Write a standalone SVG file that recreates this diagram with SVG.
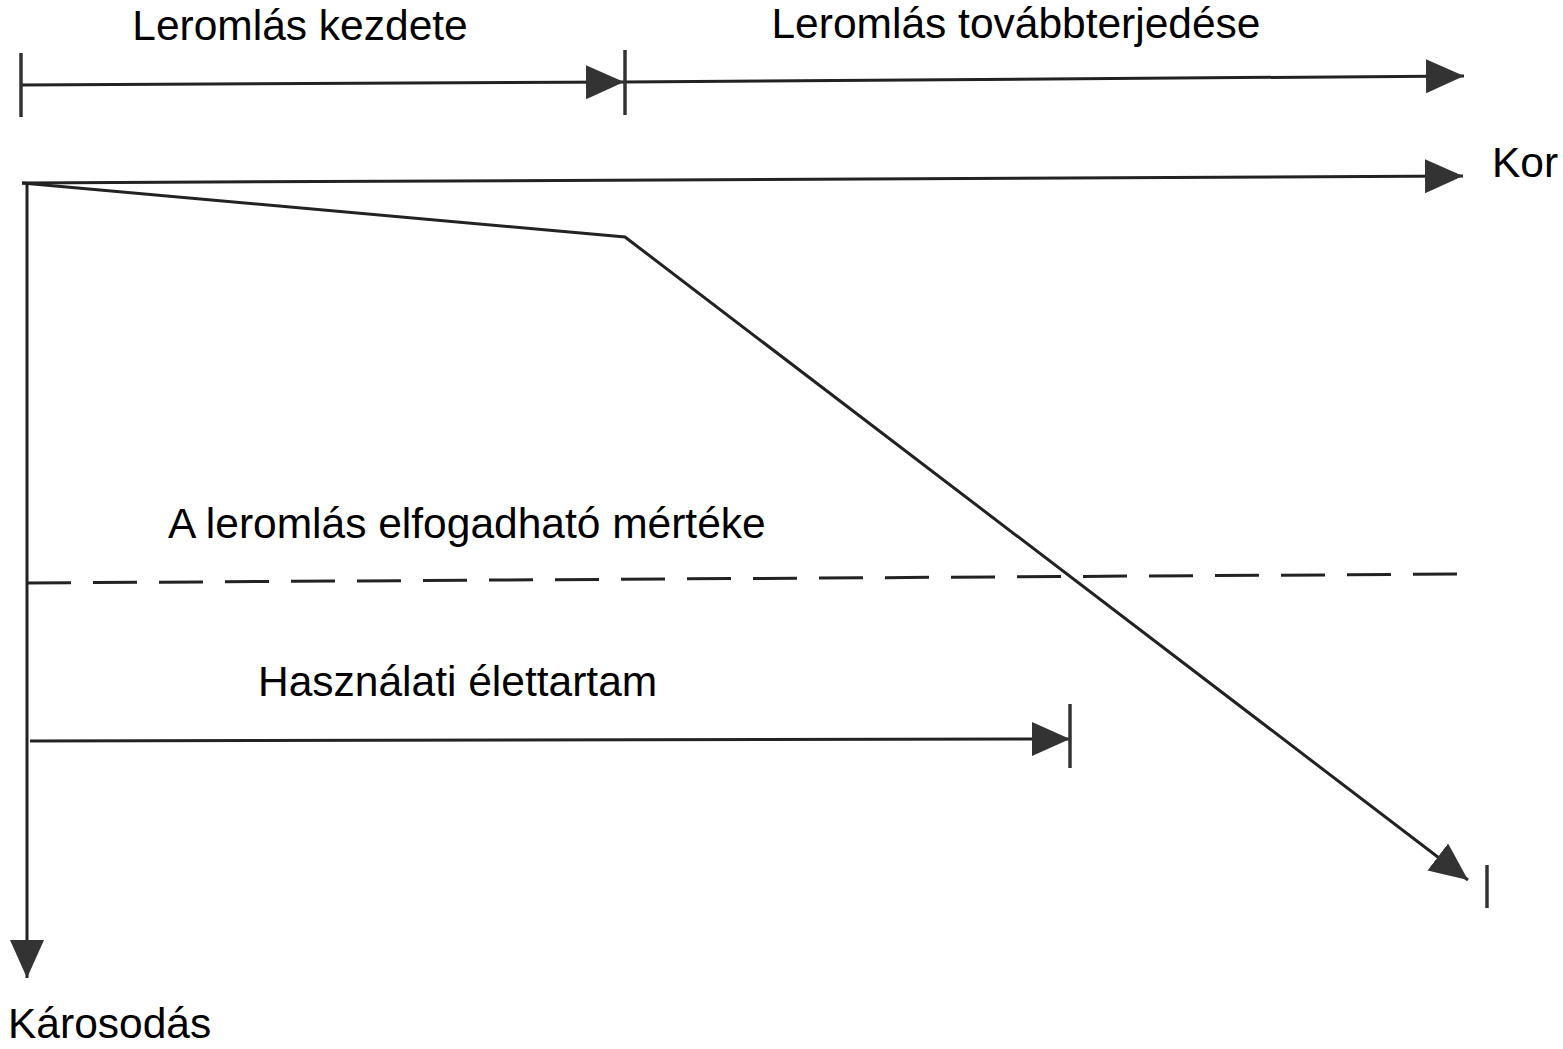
<svg xmlns="http://www.w3.org/2000/svg" width="1563" height="1049" viewBox="0 0 1563 1049">
<defs>
<marker id="ah" markerUnits="userSpaceOnUse" markerWidth="42" markerHeight="36" refX="38" refY="17" orient="auto">
<path d="M0,0 L38,17 L0,34 Z" fill="#333"/>
</marker>
<style>
.ln{stroke:#222;stroke-width:3;fill:none}
.tk{stroke:#333;stroke-width:3.5}
text{font-family:"Liberation Sans",Arial,sans-serif;font-size:42.5px;fill:#000}
</style>
</defs>
<rect width="1563" height="1049" fill="#fff"/>
<g id="connectors">
<line class="ln" x1="21" y1="85" x2="624" y2="82" marker-end="url(#ah)"/>
<line class="ln" x1="625" y1="82" x2="1464" y2="76" marker-end="url(#ah)"/>
<line class="tk" x1="21" y1="53" x2="21" y2="117"/>
<line class="tk" x1="625" y1="50" x2="625" y2="115"/>
<line class="ln" x1="22" y1="183" x2="1463" y2="176" marker-end="url(#ah)"/>
<line class="ln" x1="27" y1="183" x2="27" y2="978" marker-end="url(#ah)"/>
<polyline class="ln" points="22,183 625,237 1468,880" marker-end="url(#ah)"/>
<line class="tk" x1="1487" y1="865" x2="1487" y2="908"/>
<line class="ln" x1="27" y1="583" x2="1465" y2="574" stroke-dasharray="44,22"/>
<line class="ln" x1="30" y1="741" x2="1070" y2="739" marker-end="url(#ah)"/>
<line class="tk" x1="1070" y1="704" x2="1070" y2="768"/>
</g>
<g id="labels">
<text x="300" y="40" text-anchor="middle">Leromlás kezdete</text>
<text x="1016" y="38" text-anchor="middle">Leromlás továbbterjedése</text>
<text x="1492" y="177">Kor</text>
<text x="168" y="538">A leromlás elfogadható mértéke</text>
<text x="258" y="696">Használati élettartam</text>
<text x="8" y="1038">Károsodás</text>
</g>
</svg>
